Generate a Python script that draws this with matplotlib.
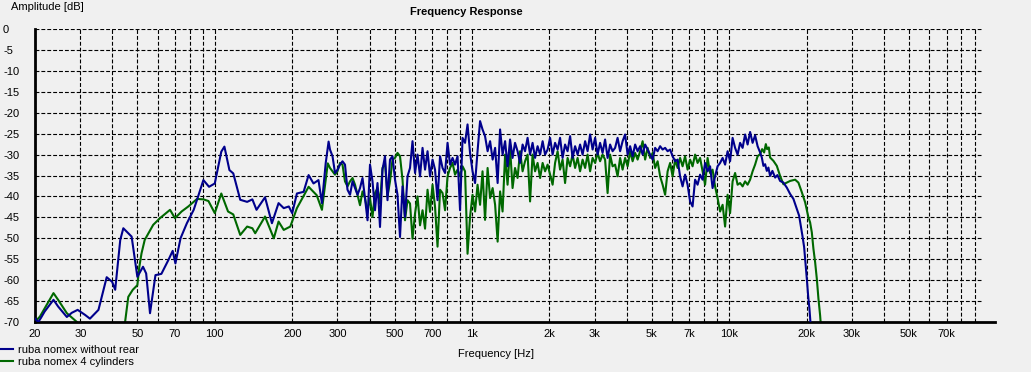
import matplotlib
matplotlib.use('Agg')
import matplotlib.pyplot as plt
from matplotlib.ticker import FixedLocator, FixedFormatter, NullFormatter

plt.rcParams['font.family'] = ['Liberation Sans', 'DejaVu Sans']
plt.rcParams['axes.unicode_minus'] = False

# ---------------------------------------------------------------
# data (Hz, dB)
# ---------------------------------------------------------------
labels = ['ruba nomex without rear', 'ruba nomex 4 cylinders']

blue_low_f = [20, 20.6, 21.1, 21.8, 23.6, 24.6, 26.6, 27.8, 29.3, 31.3, 32.7, 35.3, 38.0, 39.9,
              41.0, 42.9, 44.1, 47.5, 50, 52.6, 54.1, 56, 58.8, 62, 66, 68.6, 70.3, 73.6, 77.9,
              82.8, 85.3, 90.3, 95, 100, 106, 109, 114, 118, 125.6, 133.6, 140, 145.3, 156.8,
              166.8, 177, 185.4, 194, 200, 208.6, 221.5, 231.6, 242, 253, 261, 270, 277]
blue_low_db = [-69.2, -70, -69, -67.5, -64.7, -66.3, -68.8, -67.8, -67.1, -68.3, -69.2, -67.1, -59.3, -60.4,
               -62.3, -50.4, -47.6, -49.6, -59.2, -56.8, -58.4, -67.9, -58.8, -58.5, -55.2, -53, -56, -50, -46.4,
               -43.2, -40.8, -36.1, -37.7, -36.9, -29.3, -28.1, -33.7, -34.5, -40.8, -41.3, -40.7, -43.2, -40.2,
               -46.4, -41.6, -42.8, -42.4, -44, -39.3, -38.9, -34.9, -36.9, -36.1, -41.6, -32, -26.9]

green_low_f = [20, 20.9, 23.6, 24.6, 26.6, 29.1, 30.5, 43.5, 44.8, 46.1, 48, 50, 50.9, 51.9, 53.4,
               57.6, 61.2, 67, 70, 74.3, 78.9, 85.3, 90.3, 94.5, 100, 106, 112.6, 118, 125.6, 133.6,
               140, 143.6, 156.8, 169.6, 177, 185.4, 196.6, 208.6, 231.6, 249, 261, 275]
green_low_db = [-70, -68.7, -63.1, -64.7, -67.9, -70, -73, -73, -70, -64, -62.3, -61.2, -56.8, -53.6, -50.4,
                -46.8, -45.2, -43.2, -45.2, -43.6, -42.4, -40.6, -40.7, -41.1, -44, -39.3, -43.6, -44.3, -49.2, -47.2,
                -47.6, -48.8, -44.8, -50, -46, -48, -47.2, -42.8, -37.7, -39.7, -43.2, -32.1]

# shared frequency points through the noisy middle band
mid_f = [280.5, 286.9, 293.4, 300.0, 306.8, 313.7, 320.8, 328.1, 335.6, 343.2, 351.0, 358.9,
         367.0, 375.3, 383.8, 392.5, 401.3, 410.4, 419.7, 429.2, 438.9, 448.8, 459.0, 469.4,
         480.0, 490.9, 502.0, 513.3, 525.0, 536.9, 549.0, 561.5, 574.2, 587.2, 600.5, 614.1,
         628.1, 642.3, 656.9, 671.7, 686.9, 702.5, 718.4, 734.6, 751.3, 768.3, 785.7, 803.5,
         821.6, 840.2, 859.2, 878.7, 898.6, 918.9, 939.7, 961.0, 982.7, 1005, 1028, 1051,
         1075, 1099, 1124, 1150, 1176, 1203, 1230, 1258, 1286, 1315, 1345, 1375,
         1406, 1438, 1470, 1504, 1538, 1573, 1608, 1645, 1682, 1720, 1759, 1799,
         1840, 1882, 1924, 1968, 2012, 2058, 2104, 2152, 2200, 2250, 2301, 2353,
         2407, 2461, 2517, 2574, 2632, 2692, 2753, 2815, 2879, 2944, 3011, 3079,
         3148, 3219, 3292, 3367, 3443, 3521, 3601, 3682, 3766, 3851, 3938, 4028,
         4119, 4212, 4308, 4405, 4505, 4607, 4711, 4818, 4927, 5039, 5153, 5269,
         5388, 5510, 5635, 5762, 5893, 6026, 6163, 6302, 6442, 6588, 6737, 6890,
         7046, 7205, 7369, 7535, 7706, 7881, 8059, 8241, 8427, 8618, 8813, 9012,
         9218, 9427, 9640, 9858, 10081, 10309, 10543, 10781, 11025, 11275, 11530, 11791,
         12058, 12331, 12610, 12896]

blue_mid_db = [-28.8, -30.4, -34.4, -33.6, -32.4, -31.6, -32.4, -38.4, -39.6, -36.4, -38, -39.6,
               -38, -35.6, -40.4, -45.7, -32.4, -36.4, -43.3, -36.8, -47.3, -33.6, -30.4, -40.9,
               -31.2, -30.4, -36, -39.6, -49.7, -37.6, -44.9, -35.2, -33.2, -26.8, -34.4, -30,
               -35.2, -28.4, -33.6, -29.2, -35.2, -31.2, -33.6, -40.9, -30.4, -33.2, -34.4, -27.2,
               -32.4, -30.8, -32.4, -30.4, -43.3, -26, -27.2, -22.8, -29.6,
               -34, -36.8, -29.2, -22, -24, -25.6, -29.2, -26.8, -31.2, -28.4, -36.8, -24,
               -30, -26.8, -32.8, -26.4, -30.8, -27.2, -29.2, -32, -27.6, -29.2, -26, -30,
               -27.2, -30.8, -28, -30, -26.8, -30, -28.8, -26, -30, -27.2, -28.8, -26,
               -30.8, -27.6, -29.2, -25.6, -30.8, -28, -30, -27.6, -30, -26.8, -29.2, -25.2,
               -28.8, -26, -30, -27.2, -29.6, -26.4, -30.8, -27.6, -29.2,
               -28.4, -26, -29.2, -26.8, -25.2, -30, -28, -30.4, -27.6, -29.2, -28, -30,
               -27.6, -28.8, -30, -31.2, -28.4, -29.2, -28, -28.8, -28.4, -29.2, -28.8, -30.4,
               -31.6, -31.2, -35.2, -37.6, -34.8, -37.2, -41.2, -42.4, -36, -37.2, -34.8, -36,
               -32, -34, -32.8, -38, -35.2, -32.8, -32, -30.8, -32.4, -29.2, -31.6, -26,
               -28.4, -30, -27.2, -28.4, -25.2, -27.6, -24.6, -27.2, -25.4, -28]

green_mid_db = [-33.2, -34, -34.8, -34, -32, -32.4, -36.4, -37.6, -36.4, -35.6, -37.2, -39.6,
                -42.1, -38.8, -40.4, -43.7, -40.4, -44.9, -39.2, -38, -41.7, -33.2, -32, -40,
                -36.4, -31.2, -30.8, -29.6, -30.4, -36, -45.7, -40.9, -41.7, -50.1, -44.1, -40,
                -46.9, -43.3, -47.7, -38.4, -43.7, -37.2, -42.5, -52, -38.4, -39.2, -43.3, -35.2,
                -33.2, -32, -34.8, -33.6, -35.2, -32.8, -34, -53.7, -44.9,
                -39.6, -43.6, -37.2, -42, -34, -45.6, -33.2, -40.4, -38, -42, -50.8, -38.8,
                -43.6, -30, -37.2, -28.4, -38, -33.2, -35.6, -29.2, -34, -31.6, -30, -41.2,
                -30, -34, -32, -35.6, -32, -34, -32.4, -34.8, -37.2, -32, -29.2, -33.6,
                -31.2, -36.8, -30.8, -32.8, -30, -33.2, -30.8, -34, -31.2, -33.2, -30, -34,
                -30.8, -32, -29.6, -31.6, -30, -31.2, -39.2, -30, -32.8,
                -32.4, -35.2, -30.8, -33.6, -30.8, -32.8, -29.2, -31.6, -29.6, -31.2, -29.2, -26.8,
                -31.2, -28.4, -30.8, -29.6, -33.2, -31.6, -35.2, -37.2, -39.6, -34, -32, -35.2,
                -31.2, -33.2, -30.8, -32.8, -30.4, -33.6, -31.2, -32.8, -30, -32, -30.8, -34,
                -37.2, -30.8, -34.4, -33.6, -37.6, -40.4, -43.6, -42, -47.2, -39.6, -44, -36.4,
                -34.4, -37.2, -36.8, -37.6, -36.4, -37.2, -36, -34, -32.4, -30.4]

blue_high_f = [13189, 13391, 13585, 13793, 14004, 14206, 14421, 14724, 15088, 15399, 15772, 16250,
               16753, 17250, 17771, 18321, 18701, 18988, 19262, 19558, 19788, 20037, 20271, 20508, 20692]
blue_high_db = [-29.5, -30.7, -32.7, -32.3, -33.9, -33.1, -35.1, -33.9, -35.5, -34.9, -36.3, -36.7,
                -37.9, -39.4, -40.6, -43, -44.6, -47, -49.4, -52.1, -55.7, -59.7, -63.7, -66.8, -70]

green_high_f = [13189, 13428, 13670, 13880, 14042, 14257, 14421, 14857, 15316, 15772, 16250, 16753,
                17250, 18044, 18583, 19160, 19734, 20325, 20633, 20953, 21255, 21581, 21913, 22230,
                22566, 22773]
green_high_db = [-29.9, -28.7, -29.5, -27.5, -28.7, -28.3, -30.7, -31.5, -32.7, -35.1, -37.1, -36.7,
                 -36.3, -36, -36.7, -39, -41.4, -45, -46.2, -48.6, -52.5, -55.7, -59.7, -64.4,
                 -68.4, -71.6]

x_major = [20, 30, 50, 70, 100, 200, 300, 500, 700, 1000, 2000, 3000, 5000, 7000,
           10000, 20000, 30000, 50000, 70000]
x_major_labels = ['20', '30', '50', '70', '100', '200', '300', '500', '700', '1k', '2k', '3k', '5k', '7k',
                  '10k', '20k', '30k', '50k', '70k']
x_minor = [40, 60, 80, 90, 400, 600, 800, 900, 4000, 6000, 8000, 9000, 40000, 60000, 80000, 90000]
y_ticks = list(range(-70, 1, 5))

blue_f = blue_low_f + mid_f + blue_high_f
blue_db = blue_low_db + blue_mid_db + blue_high_db
green_f = green_low_f + mid_f + green_high_f
green_db = green_low_db + green_mid_db + green_high_db

# ---------------------------------------------------------------
bg = '#f0f0f0'
fig = plt.figure(figsize=(10.31, 3.72), dpi=100, facecolor=bg)
ax = fig.add_axes([35/1031, 1-322/372, (995-35)/1031, (322-29)/372])
ax.set_facecolor(bg)

grid_style = dict(color='black', linestyle=(0, (3.5, 1.8)), linewidth=0.8)
ax.set_xscale('log')
ax.set_xlim(20, 108000)
ax.set_ylim(-70, 0)

ax.xaxis.set_major_locator(FixedLocator(x_major))
ax.xaxis.set_major_formatter(FixedFormatter(x_major_labels))
ax.xaxis.set_minor_locator(FixedLocator(x_minor))
ax.xaxis.set_minor_formatter(NullFormatter())
ax.grid(True, which='both', axis='x', zorder=1, **grid_style)
ax.hlines(y_ticks[1:], 20, 95300, zorder=1, **grid_style)

ax.set_yticks(y_ticks)
ax.tick_params(axis='y', length=0, pad=23, labelsize=8)
for t in ax.get_yticklabels():
    t.set_ha('left')
ax.tick_params(axis='x', which='both', length=0, pad=5, labelsize=8)

for s in ['top', 'right']:
    ax.spines[s].set_visible(False)
ax.spines['left'].set_linewidth(2)
ax.spines['bottom'].set_linewidth(2)

ax.plot(blue_f, blue_db, color='#00008c', lw=1.5, zorder=3, label=labels[0])
ax.plot(green_f, green_db, color='#006800', lw=1.5, zorder=2, label=labels[1])

fig.text(466/1031, 1-12/372, 'Frequency Response', ha='center', va='center',
         fontsize=8, fontweight='bold')
fig.text(11/1031, 1-7/372, 'Amplitude [dB]', ha='left', va='center', fontsize=8)
fig.text(496/1031, 1-354/372, 'Frequency [Hz]', ha='center', va='center', fontsize=8)

fig.legend(loc='upper left', bbox_to_anchor=(0.0, 1-344/372), frameon=False,
           fontsize=8, handlelength=1.1, handletextpad=0.4, labelspacing=0.15,
           borderpad=0.1, borderaxespad=0)

fig.savefig('out.png', dpi=100, facecolor=bg)
